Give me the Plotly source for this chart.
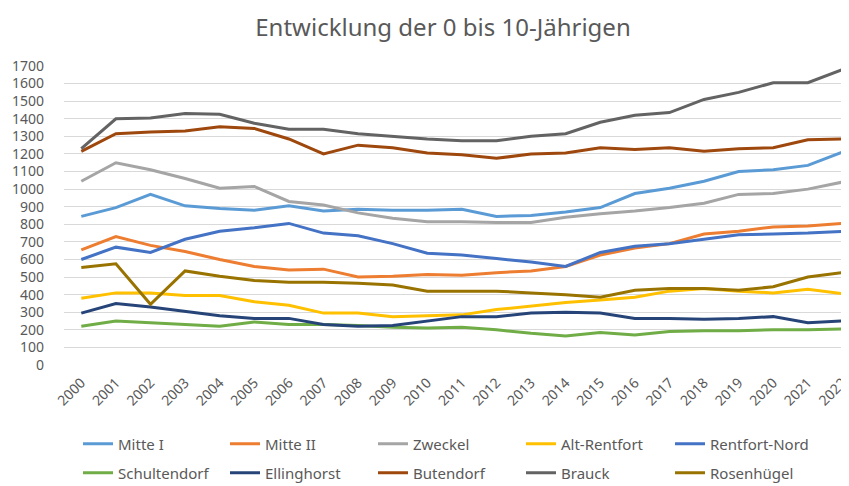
import plotly.graph_objects as go

years = [str(y) for y in range(2000, 2023)]

mitte_1 = [845, 895, 970, 905, 890, 880, 905, 875, 885, 880, 880, 885, 845, 850, 870, 895, 975, 1005, 1045, 1100, 1110, 1135, 1210]
mitte_2 = [655, 730, 680, 645, 600, 560, 540, 545, 500, 505, 515, 510, 525, 535, 560, 625, 665, 690, 745, 760, 785, 790, 805]
zweckel = [1045, 1150, 1110, 1060, 1005, 1015, 930, 910, 865, 835, 815, 815, 810, 810, 840, 860, 875, 895, 920, 970, 975, 1000, 1040]
alt_rentfort = [380, 410, 410, 395, 395, 360, 340, 295, 295, 275, 280, 285, 315, 335, 355, 370, 385, 420, 435, 420, 410, 430, 405]
rentfort_nord = [600, 670, 640, 715, 760, 780, 805, 750, 735, 690, 635, 625, 605, 585, 560, 640, 675, 690, 715, 740, 745, 750, 760]
schultendorf = [220, 250, 240, 230, 220, 245, 230, 230, 225, 215, 210, 215, 200, 180, 165, 185, 170, 190, 195, 195, 200, 200, 205]
ellinghorst = [295, 350, 330, 305, 280, 265, 265, 230, 220, 225, 250, 275, 275, 295, 300, 295, 265, 265, 260, 265, 275, 240, 250]
butendorf = [1215, 1315, 1325, 1330, 1355, 1345, 1285, 1200, 1250, 1235, 1205, 1195, 1175, 1200, 1205, 1235, 1225, 1235, 1215, 1230, 1235, 1280, 1285]
brauck = [1230, 1400, 1405, 1430, 1425, 1375, 1340, 1340, 1315, 1300, 1285, 1275, 1275, 1300, 1315, 1380, 1420, 1435, 1510, 1550, 1605, 1605, 1680]
rosenhuegel = [555, 575, 345, 535, 505, 480, 470, 470, 465, 455, 420, 420, 420, 410, 400, 385, 425, 435, 435, 425, 445, 500, 525]

series = [
    ("Mitte I", mitte_1, "#5B9BD5"),
    ("Mitte II", mitte_2, "#ED7D31"),
    ("Zweckel", zweckel, "#A5A5A5"),
    ("Alt-Rentfort", alt_rentfort, "#FFC000"),
    ("Rentfort-Nord", rentfort_nord, "#4472C4"),
    ("Schultendorf", schultendorf, "#70AD47"),
    ("Ellinghorst", ellinghorst, "#264478"),
    ("Butendorf", butendorf, "#9E480E"),
    ("Brauck", brauck, "#636363"),
    ("Rosenhügel", rosenhuegel, "#997300"),
]

# page body has an 8px margin, so the figure is 8px smaller and positions shifted
W, H = 841, 478
font_family = "Noto Sans, Open Sans, sans-serif"
txt = "#595959"

# legend layout: 5 columns, 2 rows (text x positions / row centres in page pixels)
col_text_x = [118, 265, 413, 561, 710]
row_y = [444, 473]

fig = go.Figure()
legend_layouts = {}
for i, (name, vals, col) in enumerate(series):
    key = "legend" if i == 0 else f"legend{i + 1}"
    fig.add_trace(go.Scatter(
        x=years, y=vals, name=name, mode="lines",
        line=dict(color=col, width=3),
        legend=key, showlegend=True,
    ))
    c, r = i % 5, i // 5
    legend_layouts[key] = dict(
        orientation="h", xref="container", yref="container",
        x=(col_text_x[c] - 48) / W, xanchor="left",
        y=1 - (row_y[r] - 8) / H, yanchor="middle",
        font=dict(family=font_family, size=15, color=txt),
        bgcolor="rgba(0,0,0,0)", itemwidth=30, visible=True,
    )

fig.update_layout(
    width=W, height=H, showlegend=True,
    margin=dict(l=56, r=0, t=58, b=121),
    paper_bgcolor="white", plot_bgcolor="white",
    title=dict(text="Entwicklung der 0 bis 10-Jährigen", x=435 / W, xanchor="center",
               xref="container", y=1 - 20 / H, yref="container", yanchor="middle",
               font=dict(family=font_family, size=24, color=txt)),
    xaxis=dict(type="category", range=[-0.5, 22.19], showgrid=False, automargin=False,
               tickangle=-45, tickfont=dict(family=font_family, size=14, color=txt),
               showline=False, ticks="", ticklabelstandoff=6),
    yaxis=dict(range=[0, 1700], dtick=100, showgrid=True, gridcolor="#D9D9D9",
               gridwidth=1, zeroline=False, showline=False, automargin=False,
               tickfont=dict(family=font_family, size=14, color=txt),
               ticklabelstandoff=19),
    **legend_layouts,
)

fig.write_html("out.html")
